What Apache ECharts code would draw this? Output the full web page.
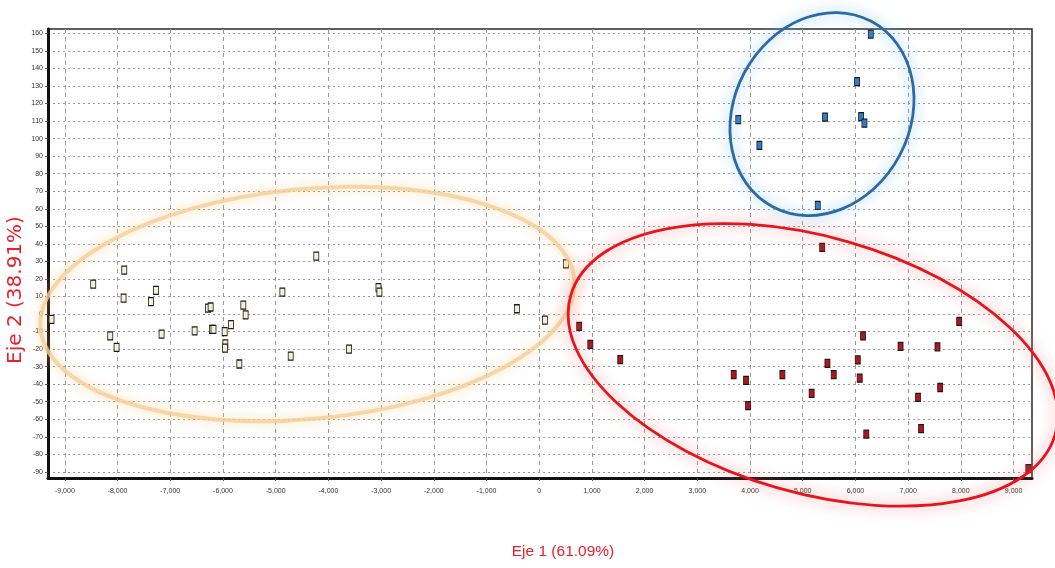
<!DOCTYPE html>
<html>
<head>
<meta charset="utf-8">
<script src="https://cdn.jsdelivr.net/npm/echarts@6/dist/echarts.min.js"></script>
<style>
  html, body { margin: 0; padding: 0; background: #fff; }
  #chart { width: 1055px; height: 568px; }
</style>
</head>
<body>
<div id="chart"></div>
<script>
// Scores on the first two factorial axes, one array per group
const grupoCrema = [
  [-9253, -3], [-8462, 17], [-7873, 25], [-7886, 9], [-8139, -12.5], [-8019, -19],
  [-7367, 7], [-7272, 13.5], [-7165, -11.5], [-6538, -9.6], [-6285, 3.3], [-6234, 4],
  [-6210, -8.7], [-6180, -8.7], [-5968, -10], [-5848, -6], [-5955, -17], [-5960, -19.5],
  [-5614, 5], [-5570, -0.5], [-5690, -28.5], [-4873, 12.5], [-4715, -24], [-4230, 33],
  [-3608, -20], [-3050, 15], [-3032, 12.5], [-424, 3], [108, -3.5], [506, 28.6]
];
const grupoRojo = [
  [759, -7], [970, -17.3], [1538, -26], [3690, -34.6], [3924, -37.8], [3962, -52.3],
  [4614, -34.6], [5370, 38], [7969, -4.2], [6145, -12.5], [6856, -18.5], [7557, -18.7],
  [5469, -28.2], [6044, -26.2], [5588, -34.5], [6081, -36.6], [5169, -45.2], [7188, -47.5],
  [7608, -41.9], [7246, -65.4], [6206, -68.5], [9281, -88.2]
];
const grupoAzul = [
  [6291, 159.6], [6032, 132.5], [6108, 112.5], [6171, 108.8], [5424, 112.2],
  [3777, 110.8], [4178, 96.2], [5285, 62]
];

// Tick values
const ticksX = [-9000, -8000, -7000, -6000, -5000, -4000, -3000, -2000, -1000,
                0, 1000, 2000, 3000, 4000, 5000, 6000, 7000, 8000, 9000];
const ticksY = [160, 150, 140, 130, 120, 110, 100, 90, 80, 70, 60, 50, 40, 30, 20, 10,
                0, -10, -20, -30, -40, -50, -60, -70, -80, -90];

const tituloX = 'Eje 1 (61.09%)';
const tituloY = 'Eje 2 (38.91%)';

// Group outlines: centre in axis units, radii in pixels, tilt in degrees (clockwise)
const contornos = [
  { centro: [-4398, 5.7], rx: 268, ry: 115, giro: -5.3,
    color: 'rgba(245,205,150,0.8)', brillo: 'rgba(248,200,130,0.9)', ancho: 4, blur: 12 },
  { centro: [5194, -29], rx: 252, ry: 128, giro: 16,
    color: '#e8141c', brillo: 'rgba(245,110,120,1)', ancho: 2.8, blur: 16 },
  { centro: [5365, 114], rx: 88, ry: 105, giro: 28,
    color: '#2a6aa8', brillo: 'rgba(110,185,240,1)', ancho: 2.8, blur: 14 }
];

const chart = echarts.init(document.getElementById('chart'), null, { renderer: 'canvas' });

const fmtMiles = v => (v === 0 ? '0' : Number(v).toLocaleString('en-US'));

function serie(datos, relleno) {
  return {
    type: 'scatter',
    data: datos,
    symbol: 'rect',
    symbolSize: [5, 8],
    itemStyle: { color: relleno, borderColor: '#1a1a1a', borderWidth: 1, opacity: 1 },
    emphasis: { disabled: true },
    z: 3
  };
}

chart.setOption({
  animation: false,
  backgroundColor: '#ffffff',
  grid: {
    left: 48, top: 29, right: 23, bottom: 90,
    show: true, borderColor: '#2a2a2a', borderWidth: 1.5, backgroundColor: '#fff'
  },
  xAxis: {
    type: 'value',
    min: -9320, max: 9350,
    axisLine: { show: true, onZero: false, lineStyle: { color: '#111', width: 3 } },
    axisTick: { show: true, customValues: ticksX, length: 3, lineStyle: { color: '#555' } },
    axisLabel: {
      customValues: ticksX, formatter: fmtMiles, margin: 10,
      fontFamily: 'Liberation Sans Narrow, Liberation Sans, sans-serif',
      fontSize: 7, color: '#333'
    },
    splitLine: { show: true, lineStyle: { color: '#9a9a9a', type: [4, 4], width: 1 } }
  },
  yAxis: {
    type: 'value',
    min: -93.5, max: 162.5,
    axisLine: { show: true, onZero: false, lineStyle: { color: '#111', width: 3 } },
    axisTick: { show: true, customValues: ticksY, length: 3, lineStyle: { color: '#555' } },
    axisLabel: {
      customValues: ticksY, margin: 5,
      fontFamily: 'Liberation Sans Narrow, Liberation Sans, sans-serif',
      fontSize: 7, color: '#333'
    },
    splitLine: { show: true, lineStyle: { color: '#9a9a9a', type: [2, 3], width: 1 } }
  },
  series: [
    serie(grupoCrema, '#f6f1d6'),
    serie(grupoRojo, '#b5141a'),
    serie(grupoAzul, '#2f7ccc')
  ]
});

// Outlines and axis titles placed through the axis scales
const graficos = contornos.map(c => {
  const p = chart.convertToPixel({ gridIndex: 0 }, c.centro);
  return {
    type: 'ellipse',
    x: p[0], y: p[1],
    rotation: -c.giro * Math.PI / 180,
    shape: { cx: 0, cy: 0, rx: c.rx, ry: c.ry },
    style: {
      fill: 'none', stroke: c.color, lineWidth: c.ancho,
      shadowBlur: c.blur, shadowColor: c.brillo
    },
    silent: true,
    z: 10
  };
});

graficos.push({
  type: 'text',
  x: 563, y: 552,
  style: {
    text: tituloX, fill: '#e8202a', align: 'center', verticalAlign: 'middle',
    font: '15.5px "Liberation Sans Narrow", "Liberation Sans", sans-serif'
  },
  z: 20
});
graficos.push({
  type: 'text',
  x: 16, y: 290,
  rotation: Math.PI / 2,
  style: {
    text: tituloY, fill: '#e8202a', align: 'center', verticalAlign: 'middle',
    font: '20px "DejaVu Sans", sans-serif'
  },
  z: 20
});

chart.setOption({ graphic: graficos });
</script>
</body>
</html>
